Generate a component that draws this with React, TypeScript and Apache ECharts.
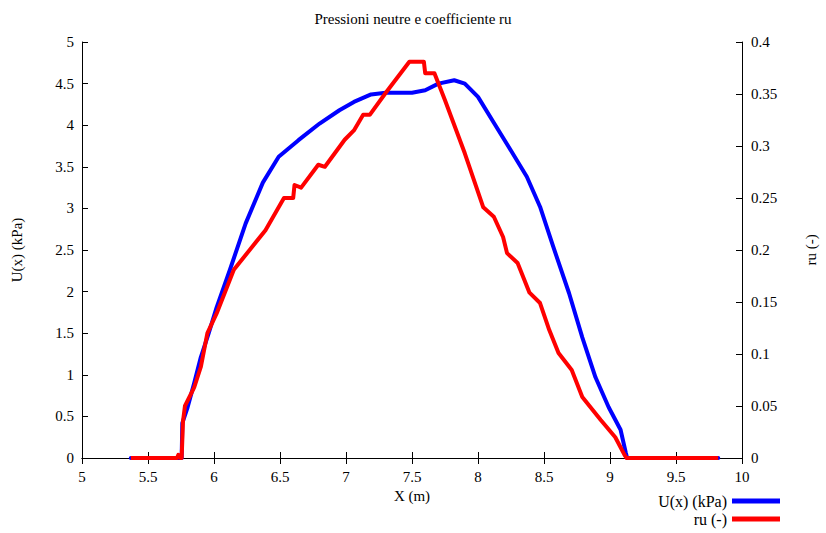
import React, { useEffect, useRef } from "react";
import * as echarts from "echarts";

const titleText = "Pressioni neutre e coefficiente ru";
const xName = "X (m)";
const uName = "U(x) (kPa)";
const ruName = "ru (-)";

const uX = [5.37, 5.755, 5.76, 5.8, 5.85, 5.9, 5.96, 6.02, 6.12, 6.24, 6.37, 6.49, 6.64, 6.8, 6.95, 7.06, 7.19, 7.3, 7.5, 7.6, 7.7, 7.82, 7.9, 8.0, 8.12, 8.24, 8.37, 8.47, 8.57, 8.69, 8.79, 8.89, 8.99, 9.08, 9.12, 9.13, 9.82];
const uVals = [0, 0, 0.42, 0.61, 0.9, 1.21, 1.5, 1.81, 2.26, 2.82, 3.31, 3.62, 3.82, 4.02, 4.18, 4.28, 4.37, 4.39, 4.39, 4.42, 4.5, 4.54, 4.5, 4.34, 4.03, 3.72, 3.38, 3.02, 2.54, 1.98, 1.45, 0.97, 0.61, 0.34, 0.06, 0, 0];

const ruX = [5.37, 5.72, 5.73, 5.745, 5.755, 5.765, 5.78, 5.85, 5.9, 5.95, 6.02, 6.15, 6.27, 6.39, 6.53, 6.6, 6.61, 6.66, 6.79, 6.84, 6.99, 7.06, 7.13, 7.18, 7.3, 7.48, 7.59, 7.6, 7.67, 7.71, 7.75, 7.9, 8.04, 8.12, 8.19, 8.22, 8.3, 8.39, 8.47, 8.54, 8.61, 8.71, 8.79, 8.93, 9.04, 9.11, 9.125, 9.82];
const ruVals = [0, 0, 0.003, 0, 0, 0.035, 0.05, 0.068, 0.0875, 0.12, 0.139, 0.181, 0.2, 0.219, 0.25, 0.25, 0.2625, 0.26, 0.282, 0.28, 0.306, 0.315, 0.33, 0.33, 0.351, 0.381, 0.381, 0.37, 0.37, 0.357, 0.344, 0.293, 0.241, 0.232, 0.2125, 0.197, 0.1875, 0.159, 0.149, 0.123, 0.101, 0.0846, 0.0587, 0.0365, 0.02, 0.003, 0, 0];

const FONT = "'Liberation Serif', 'Times New Roman', serif";
const txt = { color: "#000", fontFamily: FONT, fontSize: 15 };

export default function App() {
  const ref = useRef<HTMLDivElement>(null);
  useEffect(() => {
    if (!ref.current) return;
    const chart = echarts.init(ref.current, undefined, { renderer: "svg" });
    const axisLine = { show: true, lineStyle: { color: "#000", width: 1 } };
    const tick = { show: true, inside: true, length: 6, lineStyle: { color: "#000", width: 1 } };
    const legendBase = {
      orient: "vertical",
      right: 46,
      align: "right",
      icon: "rect",
      itemWidth: 48,
      itemHeight: 5,
      itemGap: 0,
      padding: 0,
      textStyle: { ...txt, fontSize: 16 },
    };
    chart.setOption({
      animation: false,
      backgroundColor: "#fff",
      title: {
        text: titleText,
        left: "center",
        top: 6,
        textStyle: { ...txt, fontWeight: "normal" },
      },
      grid: { left: 82, right: 69, top: 42, bottom: 75 },
      legend: [
        { ...legendBase, data: [uName], top: 493 },
        { ...legendBase, data: [ruName], top: 511 },
      ],
      xAxis: [
        {
          type: "value",
          min: 5,
          max: 10,
          interval: 0.5,
          position: "bottom",
          name: xName,
          nameLocation: "middle",
          nameGap: 26,
          nameTextStyle: txt,
          axisLine,
          axisTick: tick,
          axisLabel: { ...txt, margin: 11 },
          splitLine: { show: false },
        },
        {
          type: "value",
          min: 5,
          max: 10,
          interval: 0.5,
          position: "top",
          axisLine,
          axisTick: tick,
          axisLabel: { show: false },
          splitLine: { show: false },
        },
      ],
      yAxis: [
        {
          type: "value",
          min: 0,
          max: 5,
          interval: 0.5,
          position: "left",
          name: uName,
          nameLocation: "middle",
          nameGap: 58,
          nameRotate: 90,
          nameTextStyle: txt,
          axisLine,
          axisTick: tick,
          axisLabel: { ...txt, margin: 8 },
          splitLine: { show: false },
        },
        {
          type: "value",
          min: 0,
          max: 0.4,
          interval: 0.05,
          position: "right",
          name: ruName,
          nameLocation: "middle",
          nameGap: 61,
          nameRotate: 90,
          nameTextStyle: txt,
          axisLine,
          axisTick: tick,
          axisLabel: { ...txt, margin: 9 },
          splitLine: { show: false },
        },
      ],
      series: [
        {
          name: uName,
          type: "line",
          xAxisIndex: 0,
          yAxisIndex: 0,
          showSymbol: false,
          symbol: "none",
          lineStyle: { color: "#0000ff", width: 4, join: "round", cap: "round" },
          itemStyle: { color: "#0000ff" },
          data: uX.map((x, i) => [x, uVals[i]]),
        },
        {
          name: ruName,
          type: "line",
          xAxisIndex: 0,
          yAxisIndex: 1,
          showSymbol: false,
          symbol: "none",
          lineStyle: { color: "#ff0000", width: 4, join: "round", cap: "butt" },
          itemStyle: { color: "#ff0000" },
          data: ruX.map((x, i) => [x, ruVals[i]]),
        },
      ],
    });
    return () => chart.dispose();
  }, []);
  return (
    <div
      ref={ref}
      style={{ position: "absolute", left: 0, top: 0, width: 826, height: 533 }}
    />
  );
}
